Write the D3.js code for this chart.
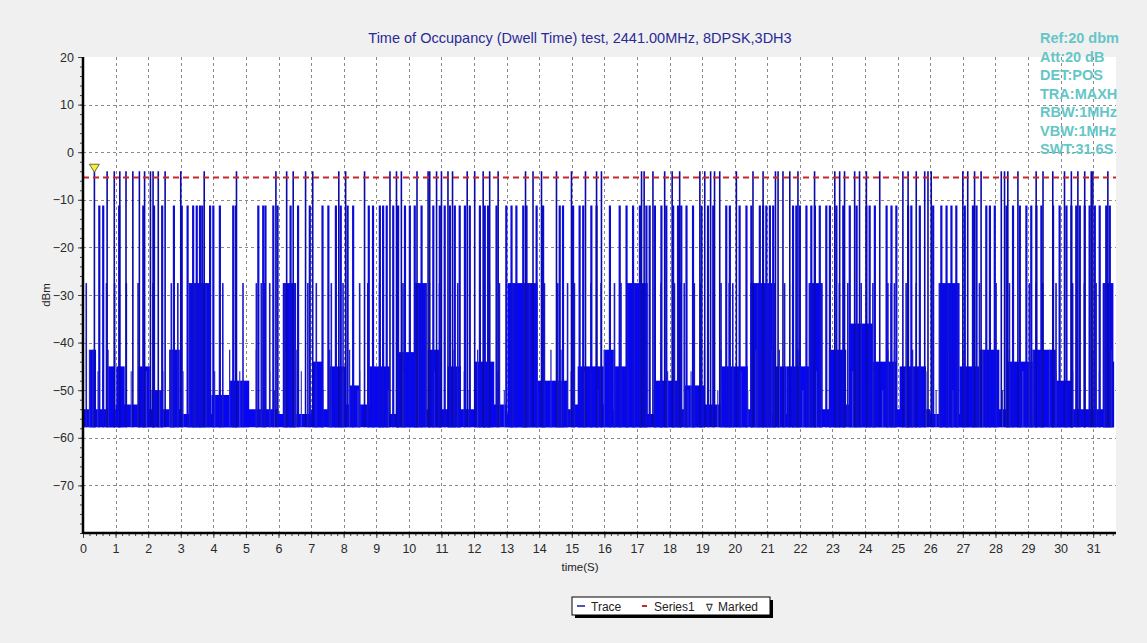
<!DOCTYPE html>
<html>
<head>
<meta charset="utf-8">
<script src="https://cdn.jsdelivr.net/npm/d3@7"></script>
<style>
  body { margin: 0; background: #f0f0f0; }
  svg { display: block; font-family: "Liberation Sans", Arial, sans-serif; }
</style>
</head>
<body>
<svg id="chart" width="1147" height="643"></svg>
<script>
// ---- data (time in s, level in dBm) ----
const yTicks = [20, 10, 0, -10, -20, -30, -40, -50, -60, -70];
const xTicks = d3.range(0, 32);
const infoLines = ['Ref:20 dbm', 'Att:20 dB', 'DET:POS', 'TRA:MAXH', 'RBW:1MHz', 'VBW:1MHz', 'SWT:31.6S'];

const limitLevel = -5.3;        // Series1 (red dashed)
const markedPoint = [0.35, -4];  // Marked

// burst peaks reaching ~ -4 dBm
const tallLevel = -4;
const tallTimes = [0.35, 0.74, 0.96, 1.13, 1.32, 1.53, 1.73, 1.89, 2.07, 2.15, 2.31, 2.52, 3.0, 3.72, 4.71,
  5.92, 6.25, 6.45, 6.83, 7.05, 7.85, 8.06, 8.64, 9.42, 9.62, 9.77, 10.25, 10.59, 10.64, 10.85, 11.0, 11.2,
  11.34, 11.79, 12.02, 12.28, 12.48, 12.74, 13.58, 13.81, 14.07, 14.53, 14.99, 15.42, 15.76, 15.91, 17.14,
  17.22, 17.49, 17.85, 18.08, 18.31, 18.93, 19.08, 19.26, 19.38, 19.54, 20.05, 20.56, 20.87, 21.25, 21.33,
  21.48, 21.69, 21.94, 22.45, 23.07, 23.22, 23.37, 23.68, 23.83, 24.04, 24.45, 25.16, 25.32, 25.57, 25.83,
  25.93, 26.03, 27.0, 27.15, 27.36, 27.56, 28.18, 28.28, 28.38, 28.69, 29.25, 29.46, 29.76, 30.12, 30.33,
  30.53, 30.74, 30.94, 30.99, 31.45];

// peaks at ~ -11 dBm
const midLevel = -11.2;
const midTimes = [0.5, 0.62, 1.11, 1.85, 2.18, 2.43, 2.79, 3.03, 3.21, 3.38, 3.49, 3.59, 3.66, 3.9, 4.0, 4.2,
  4.61, 4.69, 5.38, 5.53, 5.6, 5.84, 5.97, 6.37, 6.6, 6.96, 7.35, 7.53, 7.76, 7.91, 8.12, 8.29, 8.77, 8.9,
  9.11, 9.21, 9.32, 9.52, 9.67, 9.88, 10.03, 10.18, 10.39, 10.75, 10.95, 11.1, 11.26, 11.41, 11.56, 11.72,
  11.87, 12.18, 12.33, 12.43, 12.69, 12.99, 13.15, 13.3, 13.51, 13.61, 13.92, 14.12, 14.63, 14.73, 15.04,
  15.24, 15.35, 15.6, 15.76, 16.17, 16.47, 16.68, 16.88, 17.09, 17.29, 17.39, 17.55, 17.75, 17.9, 18.11,
  18.26, 18.36, 18.52, 18.72, 18.98, 19.18, 19.34, 19.74, 19.85, 20.15, 20.36, 20.51, 20.77, 20.87, 20.97,
  21.08, 21.18, 21.79, 21.89, 22.0, 22.2, 22.35, 22.46, 22.61, 22.81, 22.92, 23.12, 23.33, 23.53, 23.74,
  24.04, 24.14, 24.3, 24.66, 24.81, 24.96, 25.32, 25.42, 25.68, 26.09, 26.34, 26.5, 26.65, 26.8, 27.06,
  27.31, 27.42, 27.72, 27.83, 27.98, 28.34, 28.54, 28.75, 28.95, 29.1, 29.26, 29.41, 29.77, 29.97, 30.18,
  30.33, 30.48, 30.59, 30.74, 30.89, 31.05, 31.2, 31.4, 31.51];

// peaks at ~ -27.5 dBm
const lowLevel = -27.5;
const lowTimes = [0.1, 0.72, 0.97, 1.33, 1.69, 2.15, 2.71, 2.91, 3.27, 3.43, 3.58, 3.78, 4.29, 4.91, 5.32,
  5.47, 5.57, 5.73, 6.19, 6.49, 6.9, 7.16, 7.62, 7.98, 8.49, 8.74, 9.1, 9.66, 9.82, 10.22, 10.28, 10.53,
  10.63, 10.94, 11.5, 12.32, 12.47, 12.78, 13.14, 13.19, 13.55, 13.7, 14.16, 14.57, 14.87, 15.08, 15.59,
  15.9, 16.31, 16.51, 16.71, 16.92, 17.12, 17.74, 18.15, 18.35, 18.45, 18.76, 18.96, 19.58, 19.83, 19.94,
  20.5, 20.7, 21.01, 21.22, 21.53, 21.78, 22.29, 22.65, 23.21, 23.47, 23.88, 24.24, 24.7, 24.8, 24.9, 25.26,
  25.57, 26.28, 26.54, 26.84, 27.51, 28.02, 28.43, 29.04, 29.25, 29.45, 29.86, 30.37, 30.73, 31.09, 31.34];

// small peaks
const small41Times = [0.2, 0.31, 0.77, 0.97, 2.66, 2.76, 4.5, 4.7, 5.32, 6.24, 6.54, 7.57, 8.18, 8.74, 8.9,
  9.66, 10.28, 10.99, 11.35, 12.11, 12.42, 14.36, 14.67, 16.0, 16.31, 17.74, 18.35, 19.07, 19.58, 20.65,
  21.11, 21.37, 21.94, 22.91, 23.37, 24.7, 24.9, 25.46, 26.54, 27.0, 27.61, 28.43, 29.15, 29.66, 30.99, 31.55];
const small46Times = [0.46, 0.61, 1.48, 1.94, 2.45, 3.07, 4.04, 4.81, 5.73, 6.7, 7.16, 7.98, 8.49, 9.2, 9.82,
  10.78, 11.7, 12.73, 14.16, 14.98, 15.39, 16.71, 17.23, 17.94, 18.66, 19.37, 20.19, 21.68, 22.5, 23.62,
  24.24, 25.26, 25.87, 27.3, 27.82, 28.84, 29.86, 30.37, 31.19];
const small50Times = [1.33, 2.35, 3.37, 4.19, 5.88, 7.36, 8.44, 9.36, 11.81, 12.93, 13.95, 15.08, 15.79,
  16.92, 17.53, 18.56, 19.48, 20.4, 22.09, 24.03, 24.54, 26.18, 26.69, 28.22, 28.74, 30.17];

// dense burst regions: [start s, end s, top dBm]
const bursts = [
  [0.2, 0.4, -41.5], [0.77, 0.97, -45], [1.02, 1.28, -45], [1.69, 2.05, -45], [2.1, 2.45, -50],
  [2.66, 2.97, -41.5], [3.25, 3.89, -27.5], [3.94, 4.5, -51], [4.5, 5.1, -48], [6.13, 6.54, -27.5],
  [7.05, 7.36, -44], [7.57, 8.08, -45], [8.18, 8.49, -49], [8.79, 9.41, -45], [9.61, 10.17, -42],
  [10.17, 10.53, -27.5], [10.58, 10.99, -41.5], [11.19, 11.6, -45], [12.01, 12.62, -44],
  [13.03, 13.95, -27.5], [13.95, 14.87, -48], [15.18, 15.98, -45], [15.98, 16.29, -41.5], [16.29, 16.71, -45],
  [16.71, 17.33, -27.5], [17.53, 18.35, -48], [18.45, 19.07, -49], [19.58, 20.4, -45], [20.5, 21.16, -27.5],
  [21.17, 21.58, -45], [21.58, 22.29, -45], [22.29, 22.7, -27.5], [22.91, 23.42, -41.5], [23.52, 24.24, -36],
  [24.24, 24.95, -44], [25.06, 25.87, -45], [26.28, 26.9, -27.5], [26.9, 27.51, -45], [27.51, 28.12, -41.5],
  [28.33, 29.15, -44], [29.15, 29.86, -41.5], [29.86, 30.37, -48], [31.29, 31.62, -27.5]];

// noise floor: bottom level and top level each second
const floorBottom = -57.8;
const floorTop = [-54, -53, -54, -55, -53, -54, -55, -54, -53, -55, -54, -54, -53, -55, -54, -53,
  -54, -55, -54, -53, -54, -55, -54, -53, -54, -54, -55, -53, -54, -55, -54, -54];
const traceEnd = [31.62, -44];

// ---- layout ----
const W = 1147, H = 643;
const plotLeft = 83, plotRight = 1116, plotTop = 57, plotBottom = 533;

const svg = d3.select('#chart');
const x = d3.scaleLinear().domain([0, 31.7]).range([plotLeft, plotRight]);
const y = d3.scaleLinear().domain([-80, 20]).range([plotBottom, plotTop]);

svg.append('rect').attr('width', W).attr('height', H).attr('fill', '#f0f0f0');
svg.append('rect')
  .attr('x', plotLeft).attr('y', plotTop)
  .attr('width', plotRight - plotLeft).attr('height', plotBottom - plotTop)
  .attr('fill', '#fff');

// grid
const grid = svg.append('g').attr('stroke', '#8a8a8a').attr('stroke-dasharray', '3,3').attr('stroke-width', 1);
grid.selectAll('line.v').data(xTicks.filter(d => d > 0)).join('line')
  .attr('class', 'v')
  .attr('x1', d => Math.round(x(d)) + 0.5).attr('x2', d => Math.round(x(d)) + 0.5)
  .attr('y1', plotTop).attr('y2', plotBottom);
grid.selectAll('line.h').data(yTicks.filter(d => d < 20)).join('line')
  .attr('class', 'h')
  .attr('x1', plotLeft).attr('x2', plotRight)
  .attr('y1', d => Math.round(y(d)) + 0.5).attr('y2', d => Math.round(y(d)) + 0.5);

const plot = svg.append('g');
const blue = '#0606f4';

// noise floor band
const floorArea = d3.area()
  .x(d => x(d[0]))
  .y0(y(floorBottom))
  .y1(d => y(d[1]))
  .curve(d3.curveStepAfter);
plot.append('path')
  .datum(floorTop.map((v, i) => [Math.min(i, 31.62), v]).concat([[31.62, floorTop[31]]]))
  .attr('d', floorArea)
  .attr('fill', blue);

// dense bursts
plot.selectAll('rect.burst').data(bursts).join('rect')
  .attr('class', 'burst')
  .attr('x', d => x(d[0]))
  .attr('width', d => x(d[1]) - x(d[0]))
  .attr('y', d => y(d[2]))
  .attr('height', d => y(floorBottom) - y(d[2]))
  .attr('fill', blue);

// spikes
const spikeSets = [
  { times: small50Times, level: -50, color: '#3a3ad0', w: 1.2 },
  { times: small46Times, level: -46, color: '#3a3ad0', w: 1.2 },
  { times: small41Times, level: -41.5, color: '#2a2ac8', w: 1.3 },
  { times: lowTimes, level: lowLevel, color: '#1a1ac8', w: 1.6 },
  { times: midTimes, level: midLevel, color: '#0c0cd8', w: 2.2 },
  { times: tallTimes, level: tallLevel, color: '#0a0aa8', w: 1.6 }
];
spikeSets.forEach(s => {
  plot.append('g').selectAll('line').data(s.times).join('line')
    .attr('x1', d => x(d)).attr('x2', d => x(d))
    .attr('y1', y(floorBottom)).attr('y2', y(s.level))
    .attr('stroke', s.color).attr('stroke-width', s.w);
});
plot.append('line')
  .attr('x1', x(traceEnd[0])).attr('x2', x(traceEnd[0]))
  .attr('y1', y(floorBottom)).attr('y2', y(traceEnd[1]))
  .attr('stroke', '#0a0ad0').attr('stroke-width', 1.5);

// Series1 limit line
svg.append('line')
  .attr('x1', plotLeft).attr('x2', plotRight)
  .attr('y1', y(limitLevel)).attr('y2', y(limitLevel))
  .attr('stroke', '#c8282a').attr('stroke-width', 2).attr('stroke-dasharray', '6,4');

// axes
const yAxis = svg.append('g').attr('transform', `translate(${plotLeft},0)`)
  .call(d3.axisLeft(y).tickValues(yTicks).tickSize(5).tickPadding(4));
const yMinor = svg.append('g').attr('transform', `translate(${plotLeft},0)`)
  .call(d3.axisLeft(y).tickValues(d3.range(-80, 21, 2)).tickSize(3).tickFormat(''));
const xAxis = svg.append('g').attr('transform', `translate(0,${plotBottom})`)
  .call(d3.axisBottom(x).tickValues(xTicks).tickSize(5).tickPadding(6));
const xMinor = svg.append('g').attr('transform', `translate(0,${plotBottom})`)
  .call(d3.axisBottom(x).tickValues(d3.range(0, 31.65, 0.2)).tickSize(3).tickFormat(''));

[yAxis, yMinor, xAxis, xMinor].forEach(g => {
  g.select('.domain').remove();
  g.selectAll('.tick line').attr('stroke', '#444');
  g.selectAll('text').attr('font-size', 12.5).attr('fill', '#2a2a2a')
    .attr('font-family', '"Liberation Sans", Arial, sans-serif');
});
svg.append('line').attr('x1', plotLeft).attr('x2', plotLeft).attr('y1', plotTop).attr('y2', plotBottom + 1)
  .attr('stroke', '#000').attr('stroke-width', 2.5);
svg.append('line').attr('x1', plotLeft).attr('x2', plotRight).attr('y1', plotBottom).attr('y2', plotBottom)
  .attr('stroke', '#000').attr('stroke-width', 2.5);

// marker
const mx = x(markedPoint[0]), my = y(markedPoint[1]);
svg.append('path')
  .attr('d', `M${mx - 5},${my - 7}L${mx + 5},${my - 7}L${mx},${my + 1}Z`)
  .attr('fill', '#f4f03a').attr('stroke', '#6a6a40').attr('stroke-width', 1);

// titles
svg.append('text')
  .attr('x', 580).attr('y', 43).attr('text-anchor', 'middle')
  .attr('font-size', 14.5).attr('fill', '#2a2a96')
  .text('Time of Occupancy (Dwell Time) test, 2441.00MHz, 8DPSK,3DH3');

svg.append('text')
  .attr('transform', 'translate(50,295) rotate(-90)').attr('text-anchor', 'middle')
  .attr('font-size', 11.5).attr('fill', '#222').text('dBm');

svg.append('text')
  .attr('x', 580).attr('y', 571).attr('text-anchor', 'middle')
  .attr('font-size', 11.5).attr('fill', '#222').text('time(S)');

svg.append('g').selectAll('text').data(infoLines).join('text')
  .attr('x', 1040).attr('y', (d, i) => 43 + i * 18.5)
  .attr('font-size', 14.5).attr('font-weight', 'bold').attr('fill', '#66c6c6')
  .text(d => d);

// legend
const lg = svg.append('g').attr('transform', 'translate(572,597)');
lg.append('rect').attr('x', 3).attr('y', 3).attr('width', 198).attr('height', 18).attr('fill', '#000');
lg.append('rect').attr('x', 0).attr('y', 0).attr('width', 198).attr('height', 18)
  .attr('fill', '#fff').attr('stroke', '#000').attr('stroke-width', 1);
lg.append('line').attr('x1', 5).attr('x2', 13).attr('y1', 9).attr('y2', 9).attr('stroke', '#1a1aa0').attr('stroke-width', 1.5);
lg.append('text').attr('x', 19).attr('y', 13.5).attr('font-size', 12).attr('fill', '#222').text('Trace');
lg.append('line').attr('x1', 70).attr('x2', 75).attr('y1', 9).attr('y2', 9).attr('stroke', '#c8282a').attr('stroke-width', 2);
lg.append('text').attr('x', 82).attr('y', 13.5).attr('font-size', 12).attr('fill', '#222').text('Series1');
lg.append('text').attr('x', 134).attr('y', 13.5).attr('font-size', 10).attr('fill', '#222').text('\u2207');
lg.append('text').attr('x', 146).attr('y', 13.5).attr('font-size', 12).attr('fill', '#222').text('Marked');
</script>
</body>
</html>
